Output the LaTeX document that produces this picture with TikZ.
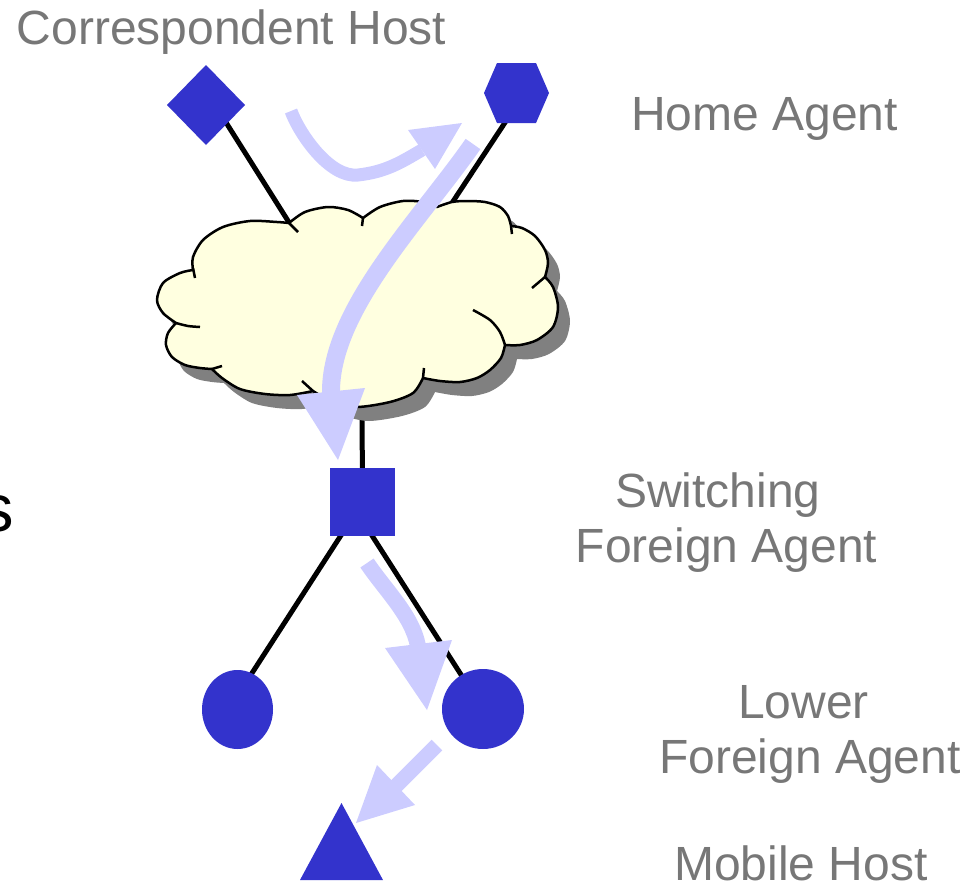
\documentclass[tikz,border=0pt]{standalone}
\usepackage{fontspec}
\setmainfont{Liberation Sans}
\usetikzlibrary{calc,shapes.geometric}
\pgfdeclarelayer{back}
\pgfsetlayers{back,main}

\definecolor{nodeblue}{RGB}{51,51,204}
\definecolor{flow}{RGB}{204,204,255}
\definecolor{cloudfill}{RGB}{255,255,224}
\definecolor{shadowgray}{RGB}{128,128,128}
\definecolor{labelgray}{RGB}{119,119,119}

\tikzset{
  pics/puffcloud/.style={code={
    \path[pic actions]
      plot[smooth] coordinates {(193,270) (193,257) (203,240) (223,227) (250,221) (277,222) (289,223)}
      -- plot[smooth] coordinates {(289,223) (305,212) (328,207) (348,210) (363,218)}
      -- plot[smooth] coordinates {(363,218) (380,207) (403,201) (423,202) (437,207)}
      -- plot[smooth] coordinates {(437,207) (452,202) (467,201) (485,202) (500,207) (508,216) (511,226)}
      -- plot[smooth] coordinates {(511,226) (522,228) (535,236) (545,250) (548,263) (545,277)}
      -- plot[smooth] coordinates {(545,277) (553,287) (558,307) (553,327) (537,340) (520,345) (505,345)}
      -- plot[smooth] coordinates {(505,345) (501,358) (490,370) (477,378) (460,382) (440,381) (423,378)}
      -- plot[smooth] coordinates {(423,378) (413,393) (390,402) (357,407) (333,402) (313,391)}
      -- plot[smooth] coordinates {(313,391) (290,395) (265,394) (240,389) (222,378) (212,369)}
      -- plot[smooth] coordinates {(212,369) (200,368) (185,365) (172,357) (166,345) (168,333) (176,323)}
      -- plot[smooth] coordinates {(176,323) (163,313) (157,300) (163,283) (180,273) (193,270)}
      -- cycle;
  }}
}

\begin{document}
\begin{tikzpicture}[x=1pt, y=-1pt,
  every node/.style={inner sep=0pt, outer sep=0pt},
  agent/.style={fill=nodeblue, draw=none},
  frame/.style={draw=none, fill=none},
  caption/.style={text=labelgray, font=\fontsize{48}{55}\selectfont, anchor=base},
  wire/.style={draw=black, line width=5pt},
  cloudedge/.style={draw=black, line width=2.5pt, line join=round},
  flowline/.style={draw=flow, line width=#1},
  flowhead/.style={fill=flow, draw=none},
]
\useasboundingbox (0,0) rectangle (977,881);
\clip (0,0) rectangle (977,881);

% network cloud with its drop shadow
\pic[fill=shadowgray] at (12,14) {puffcloud};
\pic[fill=cloudfill, draw=black, line width=2.5pt, line join=round] at (0,0) {puffcloud};
% inner creases of the cloud outline
\draw[cloudedge] (193,268) -- (195,278);
\draw[cloudedge] (289,223) -- (298,232);
\draw[cloudedge] (363,218) -- (362,226);
\draw[cloudedge] (511,226) -- (512,234);
\draw[cloudedge] (545,277) -- (532,288);
\draw[cloudedge] plot[smooth] coordinates {(473,310) (490,320) (500,332) (505,345)};
\draw[cloudedge] (423,378) -- (424,368);
\draw[cloudedge] (313,391) -- (302,381);
\draw[cloudedge] (212,369) -- (222,366);
\draw[cloudedge] plot[smooth] coordinates {(176,323) (188,326) (200,327)};

% hosts and agents
\node[agent, diamond, minimum width=78pt, minimum height=80pt] (ch) at (206,105) {};
\node[frame, minimum width=65pt, minimum height=60pt] (ha) at (516.5,93) {};
\fill[nodeblue] (ha.west) -- ($(ha.north west)+(13,0)$) -- ($(ha.north east)+(-13,0)$)
  -- (ha.east) -- ($(ha.south east)+(-13,0)$) -- ($(ha.south west)+(13,0)$) -- cycle;
\node[agent, minimum width=65pt, minimum height=68pt] (sfa) at (362.5,502) {};
\node[agent, ellipse, minimum width=71pt, minimum height=79pt] (lfa1) at (237.5,709.5) {};
\node[agent, ellipse, minimum width=82pt, minimum height=80pt] (lfa2) at (483,709) {};
\node[frame, minimum width=83pt, minimum height=77pt] (mh) at (341.5,841.5) {};
\fill[nodeblue] (mh.south west) -- (mh.north) -- (mh.south east) -- cycle;

% attachment points on the cloud
\coordinate (cloudNW) at (290,224);
\coordinate (cloudNE) at (448,209);
\coordinate (cloudS) at (362,400);

% links, kept behind everything else
\begin{pgfonlayer}{back}
\draw[wire] ($(ch.center)+(9,0)$) -- (cloudNW);
\draw[wire] ($(ha.center)+(8,0)$) -- (cloudNE);
\draw[wire] (cloudS) -- (sfa.center);
\draw[wire] (sfa.center) -- ($(lfa1.center)+(-9,0)$);
\draw[wire] ($(sfa.center)+(-12,0)$) -- (lfa2.center);
\end{pgfonlayer}

% packet flow
\draw[flowline=13pt] (291,111) .. controls (300,135) and (330,178) .. (358,175)
  .. controls (385,172) and (400,163) .. (422,150);
\fill[flowhead] (408,130) -- (462,123) -- (435,169) -- cycle;
\draw[flowline=18pt] (473,144) .. controls (420,220) and (330,310) .. (331,393);
\fill[flowhead] (297,395) -- (365,388) -- (338,460) -- cycle;
\draw[flowline=16pt] (367,563) .. controls (385,590) and (412,615) .. (418,646);
\fill[flowhead] (385,648) -- (452,640) -- (427,710) -- cycle;
\draw[flowline=15pt] (437,745) -- (396,786);
\fill[flowhead] (377,765) -- (415,805) -- (356,823) -- cycle;

% labels
\node[caption] (chtext) at (231.5,44) {Correspondent Host};
\node[caption] (hatext) at (764.5,130) {Home Agent};
\node[caption] (sfatexta) at (718,507) {Switching};
\node[caption] (sfatextb) at (726.5,562) {Foreign Agent};
\node[caption] (lfatexta) at (803.5,718) {Lower};
\node[caption] (lfatextb) at (810,773) {Foreign Agent};
\node[caption] (mhtext) at (801,880.5) {Mobile Host};
\node[anchor=base east, font=\fontsize{67}{70}\selectfont] (edgetext) at (14,531) {s};
\end{tikzpicture}
\end{document}
